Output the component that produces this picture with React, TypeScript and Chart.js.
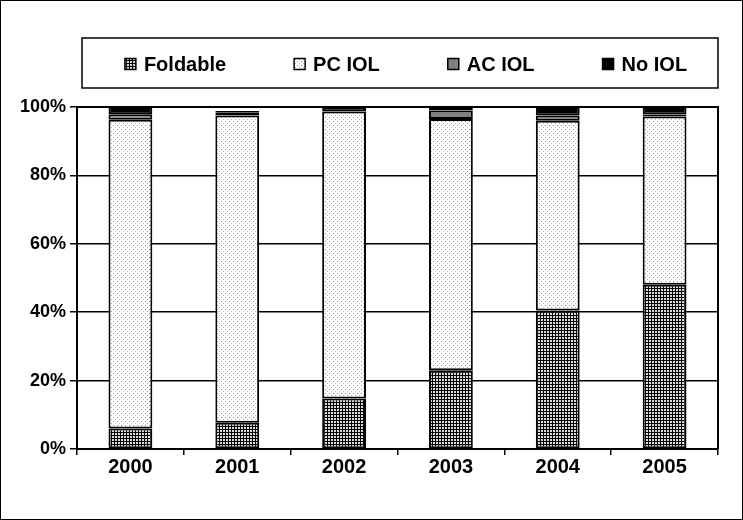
import React, { useEffect, useRef } from "react";
import { Chart, registerables } from "chart.js";

Chart.register(...registerables);

const years = ["2000", "2001", "2002", "2003", "2004", "2005"];
const foldable = [6.0, 7.7, 14.8, 23.0, 40.5, 48.0];
const pcIol = [90.3, 89.8, 83.9, 73.5, 55.5, 49.2];
const acIol = [1.6, 0.8, 0.0, 2.5, 1.5, 0.6];
const noIol = [2.1, 0.5, 1.3, 1.0, 2.5, 2.2];
const seriesNames = ["Foldable", "PC IOL", "AC IOL", "No IOL"];
const yTicks = [0, 20, 40, 60, 80, 100];

const FONT = "'Liberation Sans', Arial, sans-serif";

function makeGridPattern(ctx: CanvasRenderingContext2D) {
  const c = document.createElement("canvas");
  c.width = 3;
  c.height = 3;
  const g = c.getContext("2d")!;
  g.fillStyle = "#dcdcdc";
  g.fillRect(0, 0, 3, 3);
  g.fillStyle = "#000";
  g.fillRect(0, 0, 3, 1);
  g.fillRect(0, 0, 1, 3);
  return ctx.createPattern(c, "repeat")!;
}

function makeDotPattern(ctx: CanvasRenderingContext2D) {
  const c = document.createElement("canvas");
  c.width = 4;
  c.height = 4;
  const g = c.getContext("2d")!;
  g.fillStyle = "#ffffff";
  g.fillRect(0, 0, 4, 4);
  g.fillStyle = "#8c8c8c";
  g.fillRect(1, 1, 1, 1);
  g.fillStyle = "#b8b8b8";
  g.fillRect(3, 3, 1, 1);
  return ctx.createPattern(c, "repeat")!;
}

export default function App() {
  const ref = useRef<HTMLCanvasElement>(null);

  useEffect(() => {
    const canvas = ref.current!;
    const ctx = canvas.getContext("2d")!;
    const gridPat = makeGridPattern(ctx);
    const dotPat = makeDotPattern(ctx);
    const fills: any[] = [gridPat, dotPat, "#808080", "#000000"];

    const framePlugin = {
      id: "frame",
      afterDraw(chart: any) {
        const c = chart.ctx as CanvasRenderingContext2D;
        const a = chart.chartArea;
        c.save();
        c.strokeStyle = "#000";
        c.lineWidth = 1;
        c.strokeRect(0.5, 0.5, chart.width - 1, chart.height - 1);
        c.lineWidth = 2;
        c.beginPath();
        c.moveTo(a.left, a.top);
        c.lineTo(a.right, a.top);
        c.lineTo(a.right, a.bottom);
        c.stroke();
        c.lineWidth = 1.5;
        c.strokeRect(82, 38, 636, 50);
        c.font = `bold 20px ${FONT}`;
        c.textBaseline = "middle";
        c.textAlign = "left";
        const box = 11;
        const gap = 8;
        const sep = 68;
        const widths = seriesNames.map((n) => box + gap + c.measureText(n).width);
        const total = widths.reduce((s, w) => s + w, 0) + sep * (widths.length - 1);
        let x = 406 - total / 2;
        const cy = 64;
        seriesNames.forEach((n, i) => {
          c.fillStyle = fills[i];
          c.fillRect(x, cy - box / 2, box, box);
          c.lineWidth = 1.5;
          c.strokeStyle = "#000";
          c.strokeRect(x, cy - box / 2, box, box);
          c.fillStyle = "#000";
          c.fillText(n, x + box + gap, cy + 1);
          x += widths[i] + sep;
        });
        c.restore();
      },
    };

    const seriesData = [foldable, pcIol, acIol, noIol];
    const chart = new Chart(canvas, {
      type: "bar",
      data: {
        labels: years,
        datasets: seriesNames.map((name, i) => ({
          label: name,
          data: seriesData[i],
          backgroundColor: fills[i],
          borderColor: "#000",
          borderWidth: 2,
          borderSkipped: false,
          barPercentage: 0.41,
          categoryPercentage: 1,
        })),
      },
      options: {
        responsive: false,
        animation: false,
        devicePixelRatio: 1,
        layout: { padding: { top: 107, right: 25, bottom: 30, left: 0 } },
        plugins: {
          legend: { display: false },
          tooltip: { enabled: false },
        },
        scales: {
          x: {
            stacked: true,
            grid: {
              offset: true,
              drawOnChartArea: false,
              drawTicks: true,
              tickLength: 6,
              color: "#000",
              lineWidth: 1.5,
            },
            border: { display: true, color: "#000", width: 2 },
            ticks: {
              color: "#000",
              font: { family: FONT, size: 20, weight: "bold" },
              padding: 0,
            },
            afterFit: (s: any) => {
              s.height = 41;
            },
          },
          y: {
            stacked: true,
            min: 0,
            max: 100,
            afterBuildTicks: (s: any) => {
              s.ticks = yTicks.map((v) => ({ value: v }));
            },
            grid: {
              color: "#000",
              lineWidth: 1.5,
              tickLength: 7,
            },
            border: { display: true, color: "#000", width: 2 },
            ticks: {
              color: "#000",
              font: { family: FONT, size: 18, weight: "bold" },
              padding: 4,
              callback: (v: any) => `${v}%`,
            },
            afterFit: (s: any) => {
              s.width = 77;
            },
          },
        },
      },
      plugins: [framePlugin],
    });
    return () => chart.destroy();
  }, []);

  return (
    <div style={{ position: "absolute", left: 0, top: 0, width: 743, height: 520, background: "#fff" }}>
      <canvas ref={ref} width={743} height={520} style={{ display: "block", width: 743, height: 520 }} />
    </div>
  );
}
